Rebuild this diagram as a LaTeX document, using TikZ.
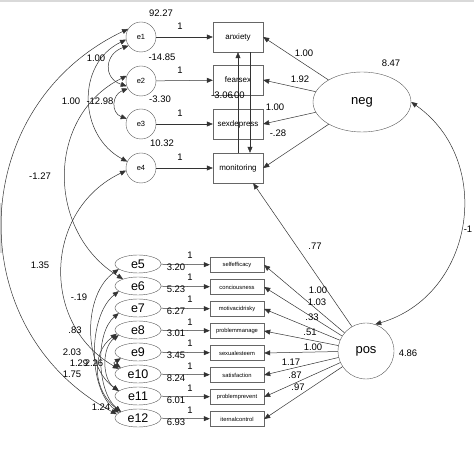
\documentclass[tikz,border=0pt]{standalone}
\usepackage{fontspec}
\setmainfont{Liberation Sans}
\usetikzlibrary{arrows.meta,shapes.geometric}

\begin{document}
\begin{tikzpicture}[
x=1pt,y=1pt,
font=\fontsize{9.5}{10}\selectfont,
errc/.style={draw=black!65,circle,minimum size=30pt,inner sep=0pt,font=\fontsize{7.5}{8}\selectfont},
erre/.style={draw=black!65,ellipse,minimum width=46pt,minimum height=18pt,inner sep=0pt,font=\fontsize{12.5}{13}\selectfont},
obs/.style={draw=black!60,minimum width=50pt,minimum height=30pt,inner sep=0pt,font=\fontsize{8}{9}\selectfont},
obss/.style={draw=black!60,minimum width=54pt,minimum height=15pt,inner sep=0pt,font=\fontsize{5.8}{6}\selectfont},
lat/.style={draw=black!65,ellipse,inner sep=0pt,font=\fontsize{13}{14}\selectfont},
lab/.style={inner sep=0pt},
arrow/.style={-{Triangle[length=6pt,width=5pt]},black!80,line width=0.5pt},
cov/.style={{Triangle[length=6pt,width=5pt]}-{Triangle[length=6pt,width=5pt]},black!80,line width=0.5pt}
]
\useasboundingbox (0,0) rectangle (474,474);
\fill[black!15] (0,472) rectangle (474,474);
\fill[black!15] (0,221) rectangle (2,271);

% negative side
\node[errc] (e1) at (141,437) {e1};
\node[errc] (e2) at (141,393) {e2};
\node[errc] (e3) at (141,350) {e3};
\node[errc] (e4) at (141,306) {e4};
\node[obs] (anxiety) at (238,437) {anxiety};
\node[obs] (fearsex) at (238,394) {fearsex};
\node[obs] (sexdepress) at (238,350) {sexdepress};
\node[obs] (monitoring) at (238,306) {monitoring};
\node[lat,minimum width=98pt,minimum height=60pt] (neg) at (362,372) {neg};

% positive side
\node[erre] (e5) at (138,210) {e5};
\node[erre] (e6) at (138,188) {e6};
\node[erre] (e7) at (138,166) {e7};
\node[erre] (e8) at (138,144) {e8};
\node[erre] (e9) at (138,122) {e9};
\node[erre] (e10) at (138,100) {e10};
\node[erre] (e11) at (138,78) {e11};
\node[erre] (e12) at (138,56) {e12};
\node[obss] (selfefficacy) at (237,209) {selfefficacy};
\node[obss] (conciousness) at (237,187) {conciousness};
\node[obss] (motivacidrisky) at (237,165) {motivacidrisky};
\node[obss] (problemmanage) at (237,143) {problemmanage};
\node[obss] (sexualesteem) at (237,121) {sexualesteem};
\node[obss] (satisfaction) at (237,99) {satisfaction};
\node[obss] (problemprevent) at (237,77) {problemprevent};
\node[obss] (iternalcontrol) at (237,55) {iternalcontrol};
\node[lat,circle,minimum size=56pt] (pos) at (366,123) {pos};

\draw[arrow] (e1) -- (anxiety);
\draw[arrow] (e2) -- (fearsex);
\draw[arrow] (e3) -- (sexdepress);
\draw[arrow] (e4) -- (monitoring);
\draw[arrow] (monitoring.north) -- (anxiety.south);
\draw[arrow] ([xshift=12pt]anxiety.south) -- ([xshift=12pt]monitoring.north);
\draw[arrow] (neg) -- (anxiety.east);
\draw[arrow] (neg) -- (fearsex.east);
\draw[arrow] (neg) -- (sexdepress.east);
\draw[arrow] (neg) -- (monitoring.east);
\draw[arrow] (pos.120) -- (monitoring.-45);

\draw[arrow] (e5) -- (selfefficacy);
\draw[arrow] (e6) -- (conciousness);
\draw[arrow] (e7) -- (motivacidrisky);
\draw[arrow] (e8) -- (problemmanage);
\draw[arrow] (e9) -- (sexualesteem);
\draw[arrow] (e10) -- (satisfaction);
\draw[arrow] (e11) -- (problemprevent);
\draw[arrow] (e12) -- (iternalcontrol);
\draw[arrow] (pos) -- (selfefficacy.east);
\draw[arrow] (pos) -- (conciousness.east);
\draw[arrow] (pos) -- (motivacidrisky.east);
\draw[arrow] (pos) -- (problemmanage.east);
\draw[arrow] (pos) -- (sexualesteem.east);
\draw[arrow] (pos) -- (satisfaction.east);
\draw[arrow] (pos) -- (problemprevent.east);
\draw[arrow] (pos) -- (iternalcontrol.east);

% covariances
\draw[cov] (neg.east) .. controls +(84,-59) and +(99,29) .. (pos.71);
\draw[cov] (e1.215) .. controls +(-24,-8) and +(-24,8) .. (e2.200);
\draw[cov] (e2.210) .. controls +(-16,-6) and +(-16,6) .. (e3.160);
\draw[cov] (e1.190) .. controls +(-50,-24) and +(-49,26) .. (e4.155);
\draw[cov] (e1.148) .. controls +(-162,-77) and +(-158,85) .. (e12.170);
\draw[cov] (e2.160) .. controls +(-81,-40) and +(-77,47) .. (e6.155);
\draw[cov] (e4.190) .. controls +(-82,-39) and +(-79,45) .. (e10.165);
\draw[cov] (e5.195) .. controls +(-36,-25) and +(-36,25) .. (e11.165);
\draw[cov] (e6.195) .. controls +(-31,-25) and +(-31,25) .. (e12.165);
\draw[cov] (e7.195) .. controls +(-24,-20) and +(-24,20) .. (e12.160);
\draw[cov] (e8.195) .. controls +(-17,-12) and +(-17,12) .. (e11.165);
\draw[cov] (e8.190) .. controls +(-27,-20) and +(-27,20) .. (e12.160);
\draw[cov] (e9.200) .. controls +(-8,-5) and +(-8,5) .. (e10.160);

% estimates
\node[lab] (v1) at (161,461) {92.27};
\node[lab] (v2) at (162,417) {-14.85};
\node[lab] (v3) at (160,375) {-3.30};
\node[lab] (v4) at (162,331) {10.32};
\node[lab] (f1) at (180,448) {1};
\node[lab] (f2) at (180,404) {1};
\node[lab] (f3) at (180,361) {1};
\node[lab] (f4) at (180,317) {1};
\node[lab] (vneg) at (391,411) {8.47};
\node[lab] (l1) at (304,421) {1.00};
\node[lab] (l2) at (300,395) {1.92};
\node[lab] (l3) at (275,367) {1.00};
\node[lab] (l4) at (278,341) {-.28};
\node[lab] (r1) at (222,379) {-3.06};
\node[lab] (r2) at (238,379) {.00};
\node[lab] (l5) at (315,228) {.77};
\node[lab] (cnp) at (468,245) {-1};
\node[lab] (vpos) at (408,121) {4.86};

\node[lab] (v5) at (176,207) {3.20};
\node[lab] (v6) at (176,185) {5.23};
\node[lab] (v7) at (176,163) {6.27};
\node[lab] (v8) at (176,141) {3.01};
\node[lab] (v9) at (176,119) {3.45};
\node[lab] (v10) at (176,96) {8.24};
\node[lab] (v11) at (176,74) {6.01};
\node[lab] (v12) at (176,52) {6.93};
\node[lab] (f5) at (190,219) {1};
\node[lab] (f6) at (190,197) {1};
\node[lab] (f7) at (190,175) {1};
\node[lab] (f8) at (190,152) {1};
\node[lab] (f9) at (190,131) {1};
\node[lab] (f10) at (190,108) {1};
\node[lab] (f11) at (190,86) {1};
\node[lab] (f12) at (190,64) {1};
\node[lab] (p1) at (318,184) {1.00};
\node[lab] (p2) at (317,172) {1.03};
\node[lab] (p3) at (312,157) {.33};
\node[lab] (p4) at (310,142) {.51};
\node[lab] (p5) at (313,127) {1.00};
\node[lab] (p6) at (291,112) {1.17};
\node[lab] (p7) at (295,99) {.87};
\node[lab] (p8) at (298,87) {.97};

\node[lab] (c1) at (96,416) {1.00};
\node[lab] (c2) at (71,373) {1.00};
\node[lab] (c3) at (100,373) {-12.98};
\node[lab] (c4) at (40,298) {-1.27};
\node[lab] (c5) at (40,209) {1.35};
\node[lab] (c6) at (79,177) {-.19};
\node[lab] (c7) at (75,144) {.83};
\node[lab] (c8) at (72,122) {2.03};
\node[lab] (c9) at (79,111) {1.29};
\node[lab] (c10) at (94,111) {2.26};
\node[lab] (c11) at (72,100) {1.75};
\node[lab] (c12) at (101,67) {1.24};
\end{tikzpicture}
\end{document}
